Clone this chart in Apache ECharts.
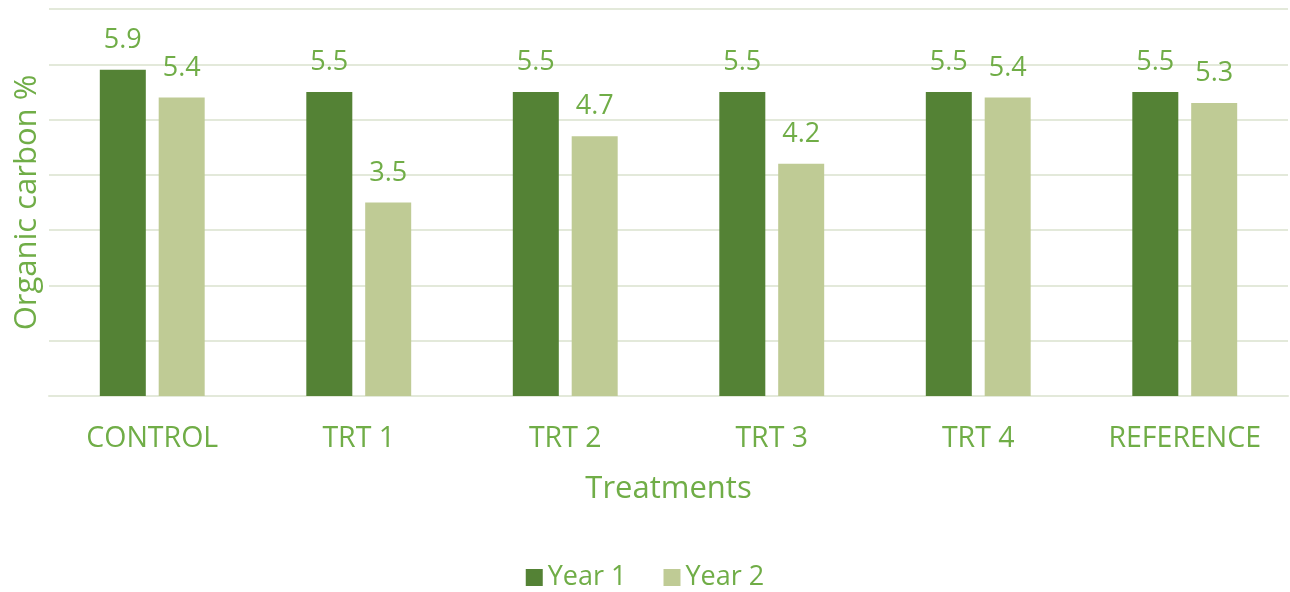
<!DOCTYPE html>
<html>
<head>
<meta charset="utf-8">
<script src="https://cdn.jsdelivr.net/npm/echarts@6.0.0/dist/echarts.min.js"></script>
<style>
  html, body { margin: 0; padding: 0; background: #ffffff; }
  #chart { width: 1290px; height: 592px; }
</style>
</head>
<body>
<div id="chart"></div>
<script>
// Organic carbon % by treatment, two years side by side
const categories = ['CONTROL', 'TRT 1', 'TRT 2', 'TRT 3', 'TRT 4', 'REFERENCE']
const year1 = [5.9, 5.5, 5.5, 5.5, 5.5, 5.5]
const year2 = [5.4, 3.5, 4.7, 4.2, 5.4, 5.3]
const seriesNames = ['Year 1', 'Year 2']

const textGreen = '#70ad47'
const darkGreen = '#548235'
const lightGreen = '#bfcb95'
const gridColor = '#e3e9da'
const fontFamily = '"Open Sans", "Noto Sans", sans-serif'

function barSeries(name, data, color) {
  return {
    name,
    type: 'bar',
    data,
    barWidth: 46,
    barGap: '28%',
    itemStyle: { color },
    label: {
      show: true,
      position: 'top',
      distance: 16,
      color: textGreen,
      fontFamily,
      fontSize: 27,
      formatter: (p) => p.value.toFixed(1),
    },
  }
}

const chart = echarts.init(document.getElementById('chart'))
chart.setOption({
  animation: false,
  textStyle: { fontFamily, color: textGreen },
  grid: { left: 49, right: 2, top: 9, bottom: 196 },
  legend: {
    top: 559,
    left: 'center',
    itemWidth: 17,
    itemHeight: 17,
    itemGap: 37,
    icon: 'rect',
    textStyle: { color: textGreen, fontSize: 27, fontFamily },
    data: seriesNames,
  },
  xAxis: {
    type: 'category',
    data: categories,
    name: 'Treatments',
    nameLocation: 'middle',
    nameGap: 78,
    nameTextStyle: { color: textGreen, fontSize: 31, fontFamily },
    axisLine: { lineStyle: { color: gridColor, width: 2 } },
    axisTick: { show: false },
    axisLabel: {
      color: textGreen,
      fontSize: 28.5,
      fontFamily,
      margin: 28,
    },
  },
  yAxis: {
    type: 'value',
    min: 0,
    max: 7,
    interval: 1,
    name: 'Organic carbon %',
    nameLocation: 'middle',
    nameGap: 6,
    nameTextStyle: { color: textGreen, fontSize: 31, fontFamily },
    axisLabel: { show: false },
    axisLine: { show: false },
    axisTick: { show: false },
    splitLine: { lineStyle: { color: gridColor, width: 2 } },
  },
  series: [
    barSeries(seriesNames[0], year1, darkGreen),
    barSeries(seriesNames[1], year2, lightGreen),
  ],
})
</script>
</body>
</html>
